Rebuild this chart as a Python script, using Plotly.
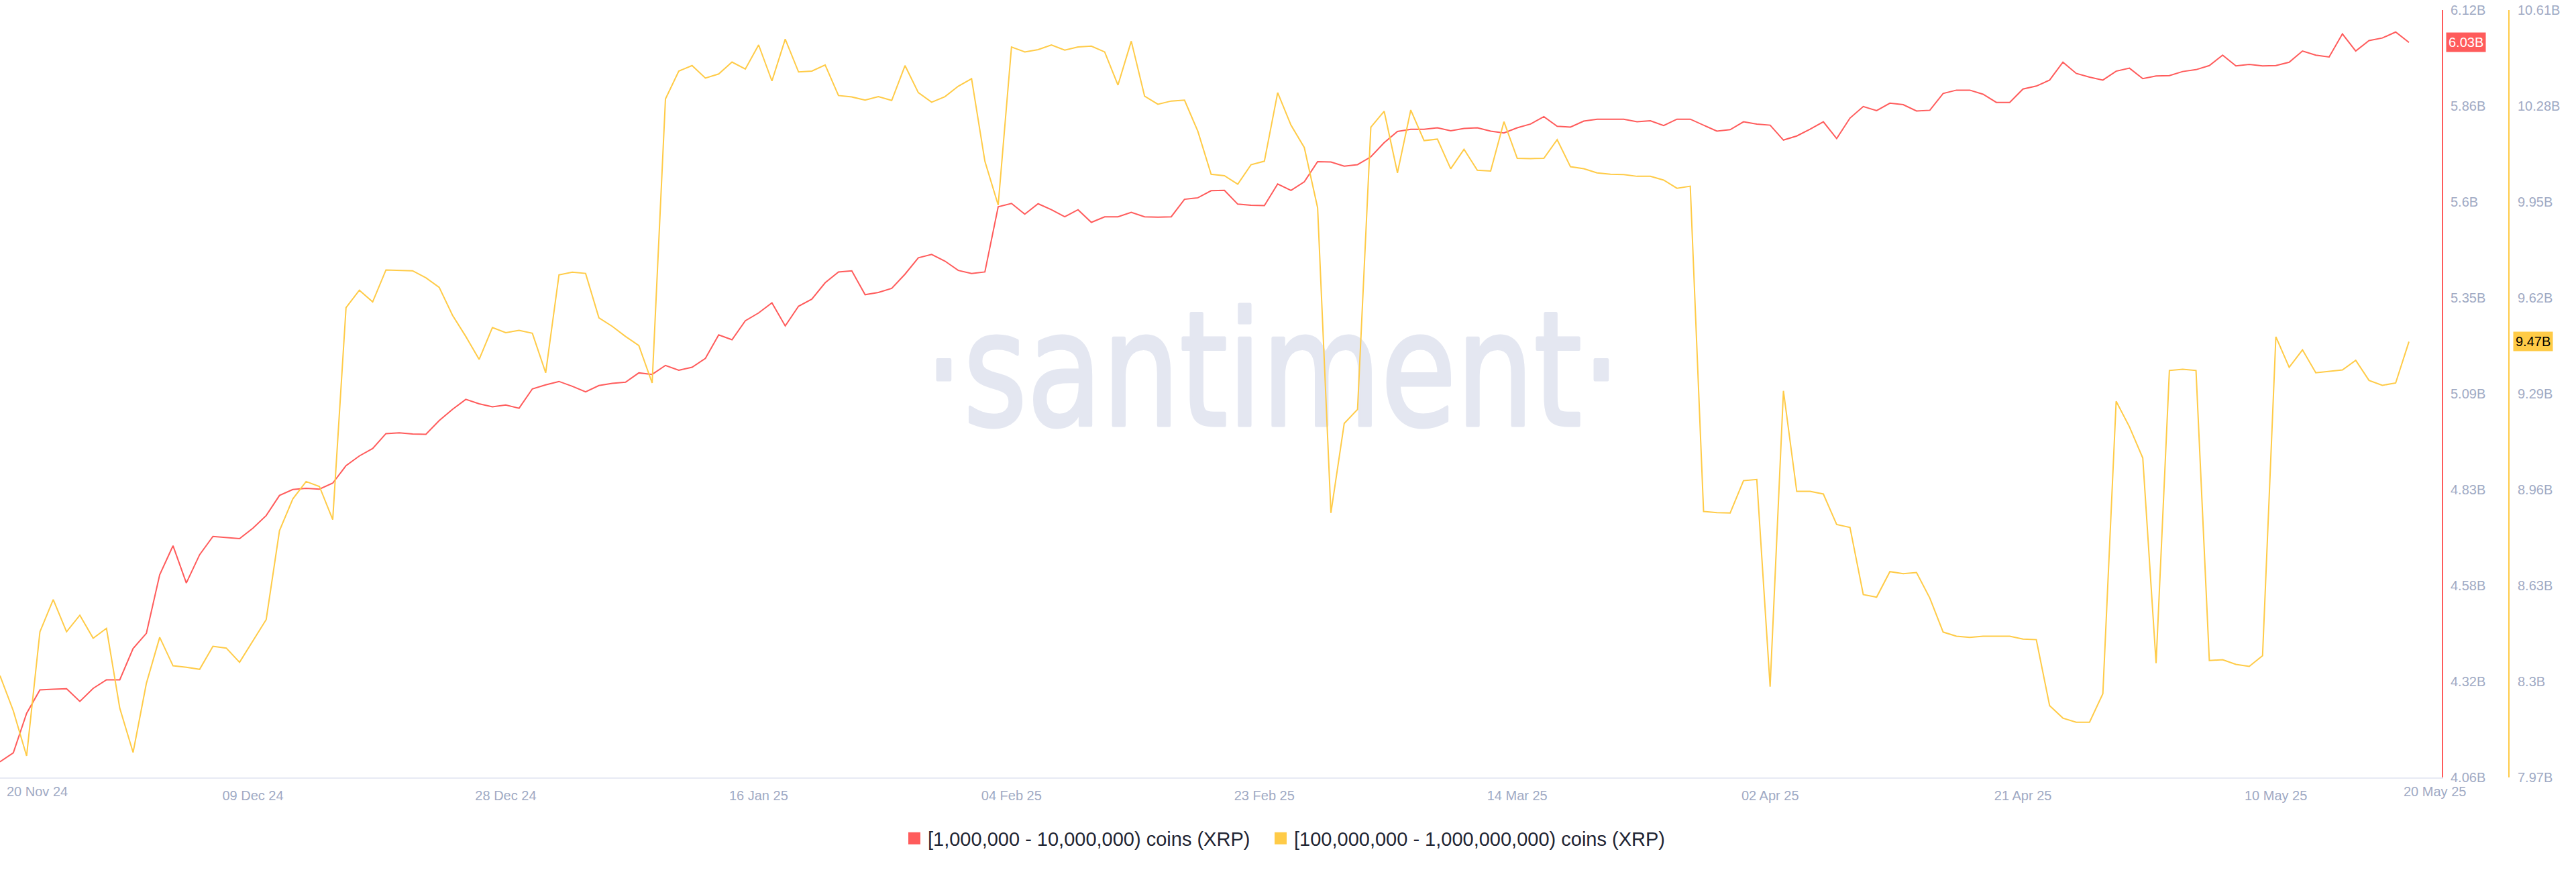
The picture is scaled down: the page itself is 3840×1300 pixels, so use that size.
import base64
import pandas as pd
import plotly.graph_objects as go

# ---------------- data ----------------
start_date = "2024-11-20"
n_days = 182

holders_1m_10m = [
    4.102, 4.126, 4.232, 4.295, 4.297, 4.298, 4.264, 4.299, 4.322, 4.322,
    4.406, 4.447, 4.604, 4.682, 4.582, 4.658, 4.707, 4.704, 4.701, 4.729,
    4.763, 4.817, 4.833, 4.836, 4.834, 4.850, 4.897, 4.923, 4.943, 4.983,
    4.985, 4.982, 4.981, 5.018, 5.048, 5.075, 5.063, 5.055, 5.060, 5.051,
    5.103, 5.114, 5.123, 5.110, 5.095, 5.112, 5.118, 5.121, 5.146, 5.142,
    5.166, 5.153, 5.161, 5.185, 5.248, 5.235, 5.286, 5.307, 5.334, 5.272,
    5.325, 5.344, 5.388, 5.417, 5.420, 5.356, 5.362, 5.373, 5.411, 5.455,
    5.464, 5.446, 5.421, 5.413, 5.417, 5.592, 5.601, 5.572, 5.600, 5.584,
    5.565, 5.584, 5.550, 5.565, 5.565, 5.577, 5.565, 5.564, 5.565, 5.612,
    5.616, 5.635, 5.636, 5.599, 5.596, 5.595, 5.653, 5.636, 5.659, 5.713,
    5.712, 5.701, 5.705, 5.726, 5.764, 5.794, 5.800, 5.800, 5.804, 5.796,
    5.802, 5.804, 5.795, 5.790, 5.804, 5.814, 5.834, 5.808, 5.806, 5.822,
    5.827, 5.827, 5.827, 5.820, 5.823, 5.810, 5.827, 5.827, 5.811, 5.795,
    5.799, 5.820, 5.814, 5.811, 5.771, 5.782, 5.800, 5.820, 5.775, 5.830,
    5.861, 5.850, 5.870, 5.866, 5.849, 5.851, 5.896, 5.905, 5.905, 5.894,
    5.872, 5.872, 5.908, 5.916, 5.932, 5.980, 5.950, 5.940, 5.932, 5.956,
    5.964, 5.936, 5.943, 5.944, 5.955, 5.960, 5.971, 5.999, 5.970, 5.974,
    5.970, 5.971, 5.980, 6.010, 5.999, 5.994, 6.056, 6.010, 6.038, 6.045,
    6.061, 6.033,
]

holders_100m_1b = [
    8.320, 8.199, 8.044, 8.471, 8.582, 8.471, 8.528, 8.449, 8.483, 8.208,
    8.056, 8.294, 8.452, 8.354, 8.349, 8.342, 8.421, 8.415, 8.366, 8.440,
    8.513, 8.819, 8.928, 8.988, 8.971, 8.857, 9.586, 9.646, 9.606, 9.716,
    9.715, 9.713, 9.689, 9.656, 9.560, 9.487, 9.408, 9.518, 9.500, 9.508,
    9.498, 9.362, 9.699, 9.708, 9.704, 9.551, 9.522, 9.487, 9.456, 9.327,
    10.304, 10.400, 10.419, 10.376, 10.390, 10.431, 10.407, 10.490, 10.366, 10.510,
    10.397, 10.400, 10.421, 10.316, 10.311, 10.300, 10.312, 10.299, 10.419, 10.326,
    10.293, 10.312, 10.348, 10.374, 10.090, 9.939, 10.483, 10.466, 10.474, 10.490,
    10.472, 10.483, 10.486, 10.466, 10.352, 10.503, 10.314, 10.286, 10.297, 10.300,
    10.193, 10.045, 10.040, 10.011, 10.078, 10.090, 10.326, 10.214, 10.137, 9.930,
    8.880, 9.188, 9.236, 10.207, 10.262, 10.050, 10.266, 10.161, 10.166, 10.064,
    10.131, 10.059, 10.056, 10.226, 10.100, 10.099, 10.100, 10.164, 10.071, 10.064,
    10.050, 10.045, 10.044, 10.038, 10.038, 10.025, 9.997, 10.004, 8.885, 8.881,
    8.880, 8.991, 8.995, 8.282, 9.300, 8.954, 8.954, 8.945, 8.840, 8.830,
    8.599, 8.590, 8.678, 8.671, 8.675, 8.587, 8.470, 8.456, 8.452, 8.456,
    8.456, 8.456, 8.446, 8.444, 8.217, 8.174, 8.160, 8.160, 8.258, 9.264,
    9.176, 9.069, 8.363, 9.370, 9.374, 9.370, 8.372, 8.375, 8.359, 8.352,
    8.389, 9.486, 9.381, 9.441, 9.362, 9.367, 9.372, 9.405, 9.336, 9.319,
    9.327, 9.469,
]

series_names = ["[1,000,000 - 10,000,000) coins (XRP)",
                "[100,000,000 - 1,000,000,000) coins (XRP)"]

x_tick_dates = ["2024-12-09", "2024-12-28", "2025-01-16", "2025-02-04",
                "2025-02-23", "2025-03-14", "2025-04-02", "2025-04-21", "2025-05-10"]
x_tick_labels = ["09 Dec 24", "28 Dec 24", "16 Jan 25", "04 Feb 25",
                 "23 Feb 25", "14 Mar 25", "02 Apr 25", "21 Apr 25", "10 May 25"]
x_edge_labels = ["20 Nov 24", "20 May 25"]

red_range = [4.06, 6.12]
red_tick_labels = ["4.06B", "4.32B", "4.58B", "4.83B", "5.09B",
                   "5.35B", "5.6B", "5.86B", "6.12B"]
yellow_range = [7.97, 10.61]
yellow_tick_labels = ["7.97B", "8.3B", "8.63B", "8.96B", "9.29B",
                      "9.62B", "9.95B", "10.28B", "10.61B"]

# ---------------- styling ----------------
RED = "#ff5b5b"
YELLOW = "#ffcb47"
TICK_COLOR = "#9faac4"
FONT = "Liberation Sans, Arial, sans-serif"
W, H = 3840, 1300
M_T, M_B = 15, 141
PLOT_RIGHT = 3640
Y2_POS = 3740

dates = pd.date_range(start_date, periods=n_days, freq="D")
x_end = dates[0] + pd.Timedelta(days=183.47)


def ticks_for(rng, n):
    step = (rng[1] - rng[0]) / (n - 1)
    return [rng[0] + i * step for i in range(n)]


fig = go.Figure()

fig.add_trace(go.Scatter(
    x=dates, y=holders_1m_10m, mode="lines", name=series_names[0],
    line=dict(color=RED, width=2), yaxis="y", showlegend=False,
    hoverinfo="skip"))
fig.add_trace(go.Scatter(
    x=dates, y=holders_100m_1b, mode="lines", name=series_names[1],
    line=dict(color=YELLOW, width=2), yaxis="y2", showlegend=False,
    hoverinfo="skip"))

# legend entries with square swatches (one legend each, placed side by side)
for name, col, lg in zip(series_names, [RED, YELLOW], ["legend", "legend2"]):
    fig.add_trace(go.Scatter(
        x=[None], y=[None], mode="markers", name=name, legend=lg,
        marker=dict(symbol="square", size=16, color=col,
                    line=dict(color=col, width=2)), yaxis="y"))

# watermark as an svg image beneath the traces
WM_COLOR = "#e4e7f1"
svg = ('<svg xmlns="http://www.w3.org/2000/svg" width="1038" height="260" '
       'viewBox="0 0 1038 260" preserveAspectRatio="none">'
       '<text x="0" y="234" font-family="DejaVu Sans" font-size="238" '
       f'fill="{WM_COLOR}" stroke="{WM_COLOR}" stroke-width="5" '
       'stroke-linejoin="round" '
       'textLength="1038" lengthAdjust="spacingAndGlyphs">'
       '\u00b7santiment\u00b7</text></svg>')
svg_uri = "data:image/svg+xml;base64," + base64.b64encode(svg.encode("utf-8")).decode()
plot_h = H - M_T - M_B
fig.add_layout_image(dict(
    source=svg_uri, xref="paper", yref="paper",
    x=1378 / W, y=(H - M_B - 400) / plot_h,
    sizex=1038 / W, sizey=260 / plot_h,
    xanchor="left", yanchor="top", sizing="stretch", layer="below"))

legend_common = dict(
    orientation="h", xanchor="left",
    y=(H - M_B - 1250) / plot_h, yanchor="middle",
    font=dict(size=29, color="#1f2533", family=FONT),
    itemsizing="trace", bgcolor="rgba(0,0,0,0)", itemclick=False,
    itemdoubleclick=False)

fig.update_layout(
    width=W, height=H,
    margin=dict(l=0, r=0, t=M_T, b=M_B, autoexpand=False),
    paper_bgcolor="white", plot_bgcolor="rgba(0,0,0,0)",
    font=dict(family=FONT, color=TICK_COLOR, size=20),
    hovermode=False,
    xaxis=dict(
        domain=[0, PLOT_RIGHT / W], range=[dates[0], x_end], type="date",
        showgrid=False, zeroline=False, showline=True, linecolor="#e7eaf4",
        linewidth=2, ticks="", tickvals=x_tick_dates, ticktext=x_tick_labels,
        tickfont=dict(size=20, color=TICK_COLOR, family=FONT),
        ticklabelstandoff=8),
    yaxis=dict(
        side="right", anchor="x", range=red_range, showgrid=False,
        zeroline=False, showline=True, linecolor=RED, linewidth=2, ticks="",
        tickvals=ticks_for(red_range, len(red_tick_labels)),
        ticktext=red_tick_labels,
        tickfont=dict(size=20, color=TICK_COLOR, family=FONT),
        ticklabelstandoff=7),
    yaxis2=dict(
        side="right", overlaying="y", anchor="free", position=Y2_POS / W,
        range=yellow_range, showgrid=False, zeroline=False, showline=True,
        linecolor=YELLOW, linewidth=2, ticks="",
        tickvals=ticks_for(yellow_range, len(yellow_tick_labels)),
        ticktext=yellow_tick_labels,
        tickfont=dict(size=20, color=TICK_COLOR, family=FONT),
        ticklabelstandoff=8),
    legend=dict(x=1343 / W, **legend_common),
    legend2=dict(x=1889 / W, **legend_common),
)

label_y = (H - M_B - 1180) / plot_h
fig.add_annotation(x=dates[0], xref="x", y=label_y, yref="paper",
                   text=x_edge_labels[0], showarrow=False, xanchor="left",
                   yanchor="middle", xshift=8,
                   font=dict(size=20, color=TICK_COLOR, family=FONT))
fig.add_annotation(x=dates[-1], xref="x", y=label_y, yref="paper",
                   text=x_edge_labels[1], showarrow=False, xanchor="left",
                   yanchor="middle", xshift=-10,
                   font=dict(size=20, color=TICK_COLOR, family=FONT))

# last-value badges
fig.add_annotation(x=(PLOT_RIGHT + 6) / W, xref="paper",
                   y=holders_1m_10m[-1], yref="y",
                   text=f"{holders_1m_10m[-1]:.2f}B", showarrow=False,
                   xanchor="left", yanchor="middle", bgcolor=RED,
                   borderpad=3, font=dict(size=20, color="white", family=FONT))
fig.add_annotation(x=(Y2_POS + 6) / W, xref="paper",
                   y=holders_100m_1b[-1], yref="y2",
                   text=f"{holders_100m_1b[-1]:.2f}B", showarrow=False,
                   xanchor="left", yanchor="middle", bgcolor=YELLOW,
                   borderpad=3, font=dict(size=20, color="black", family=FONT))

fig.write_html("out.html", config={"displayModeBar": False},
               post_script="document.body.style.margin='0';"
                           "document.body.style.overflow='hidden';")
